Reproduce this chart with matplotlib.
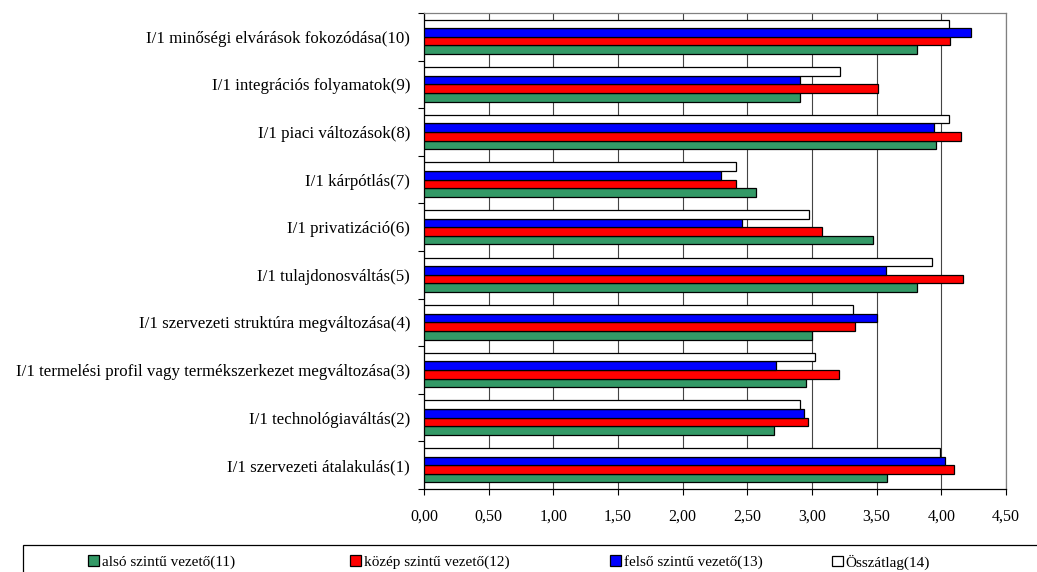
import numpy as np
import matplotlib.pyplot as plt
from matplotlib.patches import Patch, Rectangle

plt.rcParams['font.family'] = ['Liberation Serif', 'DejaVu Serif']

categories = [
    "I/1 szervezeti átalakulás(1)",
    "I/1 technológiaváltás(2)",
    "I/1 termelési profil vagy termékszerkezet megváltozása(3)",
    "I/1 szervezeti struktúra megváltozása(4)",
    "I/1 tulajdonosváltás(5)",
    "I/1 privatizáció(6)",
    "I/1 kárpótlás(7)",
    "I/1 piaci változások(8)",
    "I/1 integrációs folyamatok(9)",
    "I/1 minőségi elvárások fokozódása(10)",
]

also = [3.58, 2.71, 2.95, 3.00, 3.81, 3.47, 2.57, 3.96, 2.91, 3.81]
kozep = [4.10, 2.97, 3.21, 3.33, 4.17, 3.08, 2.41, 4.15, 3.51, 4.07]
felso = [4.03, 2.94, 2.72, 3.50, 3.57, 2.46, 2.30, 3.94, 2.91, 4.23]
osszatlag = [3.99, 2.91, 3.02, 3.32, 3.93, 2.98, 2.41, 4.06, 3.22, 4.06]

series_names = ["alsó szintű vezető(11)", "közép szintű vezető(12)",
                "felső szintű vezető(13)", "Összátlag(14)"]
series_values = [also, kozep, felso, osszatlag]
colors = ["#339966", "#FF0000", "#0000FF", "#FFFFFF"]

xticks = np.arange(0, 4.51, 0.5)

fig = plt.figure(figsize=(10.37, 5.72), dpi=100)
ax = fig.add_axes([424 / 1037, 1 - 489 / 572, (1006 - 424) / 1037, (489 - 13) / 572])

y = np.arange(len(categories))
h = 0.18
offsets = (np.arange(4) - 1.5) * h

handles = []
for vals, off, col, name in zip(series_values, offsets, colors, series_names):
    ax.barh(y + off, vals, height=h, color=col, edgecolor="black", linewidth=0.9, zorder=3)
    handles.append(Patch(facecolor=col, edgecolor="black", linewidth=0.9, label=name))

ax.set_xlim(0, 4.5)
ax.set_ylim(-0.5, len(categories) - 0.5)
ax.set_xticks(xticks)
ax.set_xticklabels([f"{v:.2f}".replace(".", ",") for v in xticks], fontsize=11.5)
ax.set_yticks(y)
ax.set_yticklabels(categories, fontsize=12.2)
ax.set_yticks(np.arange(len(categories) + 1) - 0.5, minor=True)
ax.tick_params(axis="y", which="major", length=0, pad=10)
ax.tick_params(axis="y", which="minor", length=4, width=0.8, direction="out")
ax.tick_params(axis="x", length=4, width=0.8, direction="out", pad=10)
ax.xaxis.grid(True, color="#444444", linewidth=0.8, zorder=0)
ax.set_axisbelow(True)

for side in ["left", "bottom"]:
    ax.spines[side].set_color("black")
    ax.spines[side].set_linewidth(0.9)
for side in ["top", "right"]:
    ax.spines[side].set_color("#808080")
    ax.spines[side].set_linewidth(0.9)

# legend box across the bottom
fig.add_artist(Rectangle((23 / 1037, -0.1), 1.1, (572 - 545) / 572 + 0.1,
                         transform=fig.transFigure, fill=False,
                         edgecolor="black", linewidth=0.9, clip_on=False))
legend_x = [88, 350, 610, 832]
for hd, lx in zip(handles, legend_x):
    fig.legend(handles=[hd], loc="center left", bbox_to_anchor=(lx / 1037, 1 - 562 / 572),
               frameon=False, fontsize=11, handlelength=0.7, handleheight=0.7,
               handletextpad=0.2, borderpad=0, borderaxespad=0)

fig.savefig("out.png", dpi=100)
